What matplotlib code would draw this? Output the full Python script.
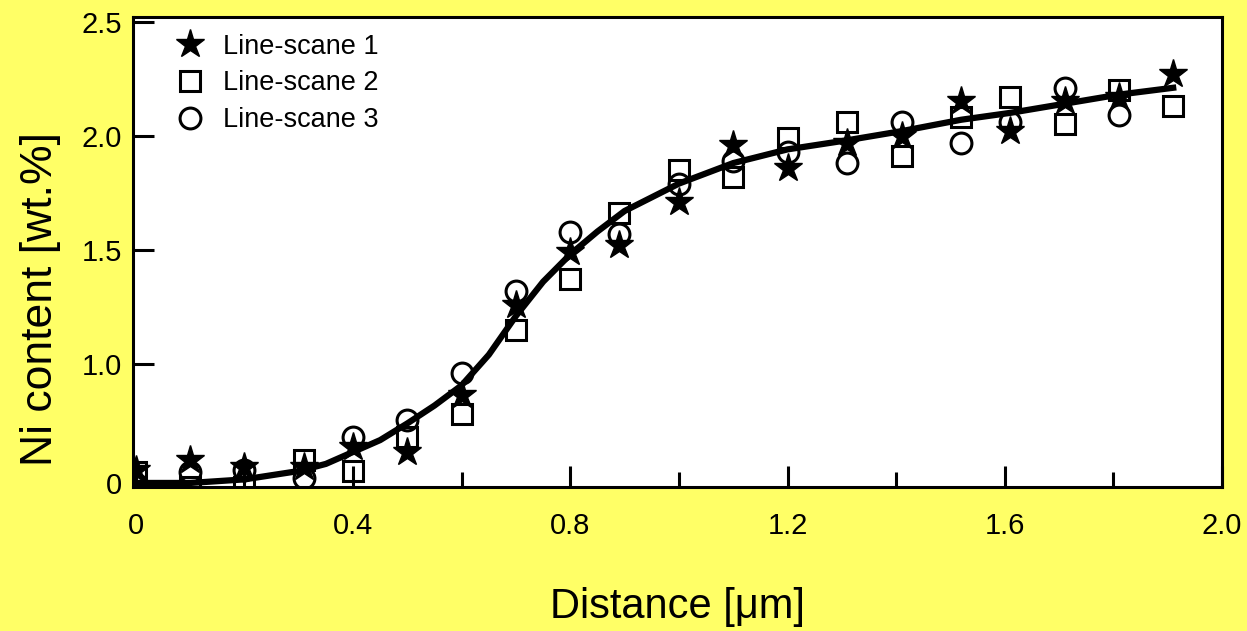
import numpy as np
import matplotlib
matplotlib.use("Agg")
import matplotlib.pyplot as plt

# --- data ---
dist = [0.0, 0.1, 0.2, 0.31, 0.4, 0.5, 0.6, 0.7, 0.8, 0.89,
        1.0, 1.1, 1.2, 1.31, 1.41, 1.52, 1.61, 1.71, 1.81, 1.91]
scan1 = [0.11, 0.19, 0.13, 0.13, 0.30, 0.26, 0.74, 1.26, 1.49, 1.52,
         1.71, 1.96, 1.86, 1.97, 2.00, 2.15, 2.02, 2.15, 2.17, 2.27]
scan2 = [0.09, -0.03, -0.03, 0.19, 0.10, 0.39, 0.58, 1.15, 1.37, 1.66,
         1.85, 1.82, 1.99, 2.06, 1.91, 2.08, 2.17, 2.05, 2.20, 2.13]
dist3 = dist[:-1]
scan3 = [-0.01, 0.09, 0.11, 0.04, 0.39, 0.53, 0.92, 1.32, 1.58, 1.57,
         1.79, 1.89, 1.93, 1.88, 2.06, 1.97, 2.06, 2.21, 2.09]

# fitted curve
fit_x = [0.0, 0.1, 0.2, 0.3, 0.35, 0.4, 0.45, 0.5, 0.55, 0.6, 0.65, 0.7, 0.75,
         0.8, 0.85, 0.9, 0.95, 1.0, 1.1, 1.2, 1.31, 1.41, 1.52, 1.61, 1.71,
         1.81, 1.91]
fit_y = [0.0, 0.0, 0.03, 0.10, 0.16, 0.26, 0.36, 0.50, 0.65, 0.82, 1.04, 1.21,
         1.36, 1.48, 1.58, 1.67, 1.73, 1.79, 1.88, 1.94, 1.98, 2.02, 2.07,
         2.10, 2.14, 2.18, 2.21]

xticks = [0, 0.4, 0.8, 1.2, 1.6, 2.0]
xtick_labels = ["0", "0.4", "0.8", "1.2", "1.6", "2.0"]
yticks = [0, 1.0, 1.5, 2.0, 2.5]
ytick_labels = ["0", "1.0", "1.5", "2.0", "2.5"]

# the original y axis is compressed below 1.0
K = 119 / 228


def fwd(y):
    y = np.asarray(y, dtype=float)
    return np.where(y < 1, y * K, K + (y - 1))


def inv(u):
    u = np.asarray(u, dtype=float)
    return np.where(u < K, u / K, 1 + (u - K))


plt.rcParams['font.family'] = ['Liberation Sans', 'DejaVu Sans']

fig = plt.figure(figsize=(12.47, 6.31), dpi=100, facecolor='#ffff66')
ax = fig.add_axes([0.1067, 0.2282, 0.8733, 0.7448])
ax.set_facecolor('white')
ax.set_yscale('function', functions=(fwd, inv))

ax.plot(fit_x, fit_y, color='black', lw=4.5, zorder=3,
        solid_joinstyle='round')
ax.plot(dist, scan1, linestyle='none', marker='*', ms=21, color='black',
        mec='black', zorder=4, label='Line-scane 1')
ax.plot(dist, scan2, linestyle='none', marker='s', ms=15, mfc='none',
        mec='black', mew=2.2, zorder=4, label='Line-scane 2')
ax.plot(dist3, scan3, linestyle='none', marker='o', ms=15, mfc='none',
        mec='black', mew=2.2, zorder=4, label='Line-scane 3')

ax.set_xlim(-0.005, 2.0)
ax.set_ylim(-0.034, 2.52)

ax.set_xticks(xticks)
ax.set_xticklabels(xtick_labels)
ax.set_xticks([0.2, 0.6, 1.0, 1.4, 1.8], minor=True)
ax.set_yticks(yticks)
ax.set_yticklabels(ytick_labels)
ax.yaxis.set_minor_locator(matplotlib.ticker.NullLocator())

ax.tick_params(axis='both', which='major', direction='in', length=15,
               width=2.2, labelsize=21, colors='black')
ax.tick_params(axis='x', which='major', pad=18)
ax.tick_params(axis='y', which='major', pad=8)
ax.tick_params(axis='x', which='minor', direction='in', length=11, width=2.2)
for s in ax.spines.values():
    s.set_linewidth(2.2)

ax.set_xlabel('Distance [\u03bcm]', fontsize=30, labelpad=34)
ax.set_ylabel('Ni content [wt.%]', fontsize=32)
ax.yaxis.set_label_coords(-0.066, 0.40)

ax.legend(loc='upper left', bbox_to_anchor=(0.02, 1.005), frameon=False,
          fontsize=19.5, handlelength=1.2, handletextpad=0.6,
          labelspacing=0.4, borderaxespad=0.3)

fig.savefig('out.png', dpi=100, facecolor=fig.get_facecolor())
